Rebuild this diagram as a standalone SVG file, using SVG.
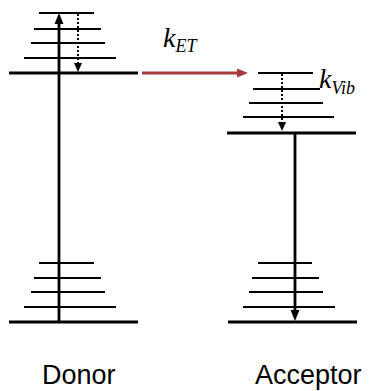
<svg xmlns="http://www.w3.org/2000/svg" width="370" height="391" viewBox="0 0 370 391">
<style>
.thin{stroke:#000;stroke-width:1.8;fill:none}
.thick{stroke:#000;stroke-width:2.8;fill:none}
.dot{stroke:#000;stroke-width:2;stroke-dasharray:2 2;fill:none}
.head{fill:#000}
.lbl{font-family:"Liberation Sans",Arial,sans-serif;font-size:27px;fill:#000}
.k{font-family:"Liberation Serif","Times New Roman",serif;font-style:italic;fill:#000}
</style>
<rect width="370" height="391" fill="#fff"/>
<g id="donor">
<line class="thin" x1="39" y1="13" x2="94" y2="13"/>
<line class="thin" x1="34" y1="29" x2="101" y2="29"/>
<line class="thin" x1="31" y1="43" x2="105" y2="43"/>
<line class="thin" x1="24" y1="58" x2="116" y2="58"/>
<line class="thick" x1="9" y1="73" x2="138" y2="73"/>
<line class="thin" x1="39" y1="263" x2="94" y2="263"/>
<line class="thin" x1="34" y1="278" x2="101" y2="278"/>
<line class="thin" x1="31" y1="292" x2="105" y2="292"/>
<line class="thin" x1="24" y1="307" x2="116" y2="307"/>
<line class="thick" x1="9" y1="322" x2="138" y2="322"/>
<text class="lbl" x="42" y="384">Donor</text>
</g>
<g id="acceptor">
<line class="thin" x1="258" y1="73" x2="313" y2="73"/>
<line class="thin" x1="253" y1="89" x2="320" y2="89"/>
<line class="thin" x1="249" y1="103" x2="323" y2="103"/>
<line class="thin" x1="243" y1="117" x2="334" y2="117"/>
<line class="thick" x1="227" y1="133" x2="356" y2="133"/>
<line class="thin" x1="258" y1="263" x2="312" y2="263"/>
<line class="thin" x1="252" y1="278" x2="319" y2="278"/>
<line class="thin" x1="249" y1="292" x2="323" y2="292"/>
<line class="thin" x1="243" y1="307" x2="335" y2="307"/>
<line class="thick" x1="228" y1="322" x2="357" y2="322"/>
<text class="lbl" x="255" y="384">Acceptor</text>
</g>
<g id="connectors">
<line class="thick" x1="59" y1="322" x2="59" y2="22"/>
<polygon class="head" points="59,13 54.5,24 63.5,24"/>
<line class="dot" x1="78" y1="14" x2="78" y2="64"/>
<polygon class="head" points="78,72 74,63 82,63"/>
<line stroke="#a33b3b" stroke-width="3" x1="142" y1="73" x2="238" y2="73"/>
<polygon fill="#a33b3b" points="248,73 237,68.5 237,77.5"/>
<line class="dot" x1="282" y1="74" x2="282" y2="123"/>
<polygon class="head" points="282,131 278,122 286,122"/>
<line class="thick" x1="295" y1="133" x2="295" y2="312"/>
<polygon class="head" points="295,321 290.5,310 299.5,310"/>
</g>
<g id="label-ket">
<text class="k" x="163" y="47" font-size="28">k<tspan font-size="18" dy="5">ET</tspan></text>
</g>
<g id="label-kvib">
<text class="k" x="319" y="88" font-size="28">k<tspan font-size="18" dy="6">Vib</tspan></text>
</g>
</svg>
